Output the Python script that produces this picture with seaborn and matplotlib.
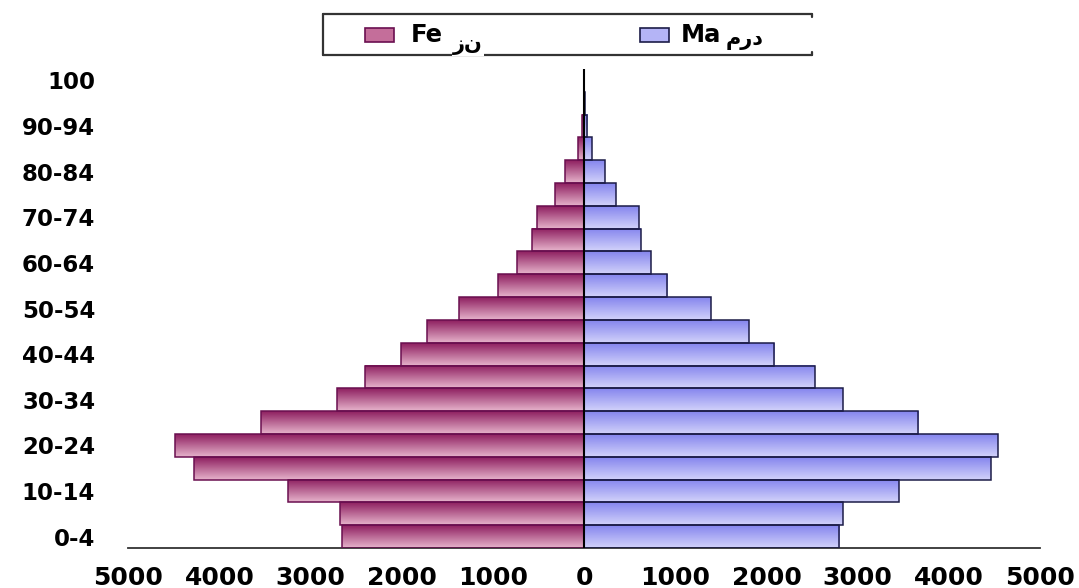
import numpy as np
import pandas as pd
import matplotlib
matplotlib.use("Agg")
import matplotlib.pyplot as plt
from matplotlib.colors import to_rgb
from matplotlib.lines import Line2D
from matplotlib.patches import Rectangle
import seaborn as sns

# Age groups, youngest first
age_groups = ["0-4", "5-9", "10-14", "15-19", "20-24", "25-29", "30-34",
              "35-39", "40-44", "45-49", "50-54", "55-59", "60-64", "65-69",
              "70-74", "75-79", "80-84", "85-89", "90-94", "95-99", "100"]
female = [2660, 2680, 3250, 4280, 4490, 3550, 2710, 2410, 2005, 1730, 1370,
          951, 734, 570, 518, 324, 213, 65, 30, 5, 1]
male = [2800, 2835, 3455, 4460, 4535, 3665, 2835, 2530, 2085, 1805, 1390,
        913, 735, 625, 603, 347, 230, 84, 35, 5, 1]
x_ticks = [-5000, -4000, -3000, -2000, -1000, 0, 1000, 2000, 3000, 4000, 5000]
legend_latin = ["Fe", "Ma"]
legend_persian = ["زن", "مرد"]

sns.set_style("white")
plt.rcParams["font.family"] = ["DejaVu Sans"]
plt.rcParams["font.weight"] = "bold"

W, H = 1079, 588
fig = plt.figure(figsize=(W / 100, H / 100), dpi=100)
ax = fig.add_axes([128.5 / W, 40 / H, 911.5 / W, 479 / H])

df = pd.DataFrame({"age": age_groups,
                   "female": [-v for v in female],
                   "male": male})
order = age_groups[::-1]  # oldest group at the top

f_top, f_bot, f_edge = "#8e1f60", "#e6b3cb", "#6a0f50"
m_top, m_bot, m_edge = "#8585ee", "#d2d2fa", "#1c1c48"

sns.barplot(data=df, x="female", y="age", order=order, orient="h",
            color=f_bot, saturation=1, width=1.0, edgecolor=f_edge,
            linewidth=1.1, ax=ax)
n_f = len(ax.patches)
sns.barplot(data=df, x="male", y="age", order=order, orient="h",
            color=m_bot, saturation=1, width=1.0, edgecolor=m_edge,
            linewidth=1.1, ax=ax)


def gradient(top, bottom, n=64):
    t = np.linspace(0, 1, n)[:, None]
    a, b = np.array(to_rgb(top)), np.array(to_rgb(bottom))
    return (a * (1 - t) + b * t)[:, None, :]


grad_f = gradient(f_top, f_bot)
grad_m = gradient(m_top, m_bot)

# vertical shading inside each bar, dark along the top edge
for i, p in enumerate(ax.patches):
    x0, w = p.get_x(), p.get_width()
    y0, h = p.get_y(), p.get_height()
    g = grad_f if i < n_f else grad_m
    ax.imshow(g, extent=(min(x0, x0 + w), max(x0, x0 + w), y0 + h, y0),
              origin="upper", aspect="auto", interpolation="bilinear",
              zorder=2)
    p.set_facecolor("none")
    p.set_zorder(3)

ax.set_xlim(-5000, 5000)
ax.set_ylim(len(age_groups) - 0.5, -0.5)
ax.axvline(0, color="black", lw=1.5, zorder=5)

ax.set_xticks(x_ticks)
ax.set_xticklabels([str(abs(v)) for v in x_ticks], fontsize=18,
                   fontweight="bold", color="black")
ax.set_yticks(range(len(order)))
ax.set_yticklabels([lab if age_groups.index(lab) % 2 == 0 else ""
                    for lab in order], fontsize=16.5, fontweight="bold",
                   color="black")
ax.tick_params(axis="x", direction="out", length=5, width=1.2,
               color="#333333", pad=8)
ax.tick_params(axis="y", length=0, pad=24)
ax.set_xlabel("")
ax.set_ylabel("")
sns.despine(ax=ax, left=True)
ax.spines["bottom"].set_color("#333333")
ax.spines["bottom"].set_linewidth(1.3)


def fx(px):
    return px / W


def fy(py):
    return 1 - py / H


# legend box (open on the right)
box_l, box_r, box_t, box_b = 323, 812, 14, 55
for xs, ys in [((box_l, box_r), (box_t, box_t)),
               ((box_l, box_r), (box_b, box_b)),
               ((box_l, box_l), (box_t, box_b)),
               ((box_r, box_r), (box_t, box_t + 3)),
               ((box_r, box_r), (box_b - 3, box_b))]:
    fig.add_artist(Line2D([fx(x) for x in xs], [fy(y) for y in ys],
                          color="#333333", lw=1.6,
                          transform=fig.transFigure))

swatches = [(365, "#c46e9a", f_edge), (640, "#b4b4f6", m_edge)]
for sx, fc, ec in swatches:
    fig.add_artist(Rectangle((fx(sx), fy(42)), 29 / W, 14 / H,
                             facecolor=fc, edgecolor=ec, lw=1.2,
                             transform=fig.transFigure))

fig.text(fx(411), fy(35), legend_latin[0], fontsize=17.5, fontweight="bold",
         ha="left", va="center", color="black")
fig.text(fx(681), fy(35), legend_latin[1], fontsize=17.5, fontweight="bold",
         ha="left", va="center", color="black")

# Persian labels sit over the clipped Latin words on a white ground
fig.text(fx(468), fy(45), legend_persian[0], fontsize=15,
         fontweight="bold", ha="center", va="center", color="black",
         bbox=dict(facecolor="white", edgecolor="none", pad=1))
fig.text(fx(745), fy(40), legend_persian[1], fontsize=15,
         fontweight="bold", ha="center", va="center", color="black",
         bbox=dict(facecolor="white", edgecolor="none", pad=1.5))

fig.savefig("out.png", dpi=100)
